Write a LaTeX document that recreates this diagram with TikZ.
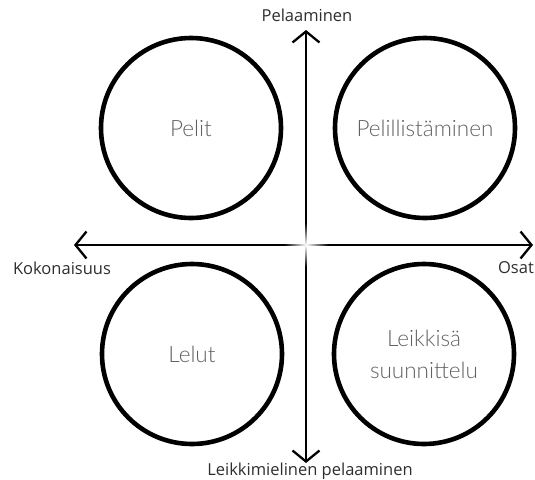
\documentclass[tikz,border=0pt]{standalone}
\usepackage{fontspec}
\setmainfont{Open Sans}
\newfontfamily\lightfont{Lato Light}
\usetikzlibrary{arrows.meta,fadings}

\tikzfading[name=hehku, inner color=transparent!0, outer color=transparent!100]

\tikzset{
  axis/.style={line width=2.3pt, black, {Straight Barb[length=11pt,width=27pt,line width=2.3pt]}-{Straight Barb[length=11pt,width=27pt,line width=2.3pt]}},
  ring/.style={circle, draw=black, line width=4.6pt, minimum size=180pt, inner sep=0pt,
    font=\lightfont\fontsize{22.5}{32}\selectfont, text=black!62, align=center},
  axislabel/.style={font=\fontsize{16.5}{18}\selectfont, text=black!82, inner sep=0pt}
}

\begin{document}
\begin{tikzpicture}[x=1pt, y=-1pt]
  % kuvan rajat (535 x 479)
  \useasboundingbox (0,0) rectangle (535,479);

  % akselien keskipiste
  \def\cx{306}
  \def\cy{245}

  % akseleiden päät
  \coordinate (ylos) at (\cx, 30);
  \coordinate (alas) at (\cx, 463);
  \coordinate (vasen) at (74, \cy);
  \coordinate (oikea) at (533, \cy);

  % 1. akselit
  \draw[axis] (alas) -- (ylos);
  \draw[axis] (vasen) -- (oikea);

  % keskikohdan vaalea hehku
  \fill[white, path fading=hehku] (\cx, \cy) circle (22pt);

  % 2. akselien nimet
  \node[axislabel] (pelaaminen) at (307, 15) {Pelaaminen};
  \node[axislabel] (kokonaisuus) at (62, 268) {Kokonaisuus};
  \node[axislabel] (osat) at (516, 268) {Osat};
  \node[axislabel] (leikki) at (310, 471) {Leikkimielinen pelaaminen};

  % 3. nelikentän ympyrät
  \node[ring] (pelit) at (191, 128) {Pelit};
  \node[ring] (pelillistaminen) at (425, 128) {Pelillistäminen};
  \node[ring] (lelut) at (192, 354) {Lelut};
  \node[ring] (suunnittelu) at (424, 354) {Leikkisä\\suunnittelu};
\end{tikzpicture}
\end{document}
